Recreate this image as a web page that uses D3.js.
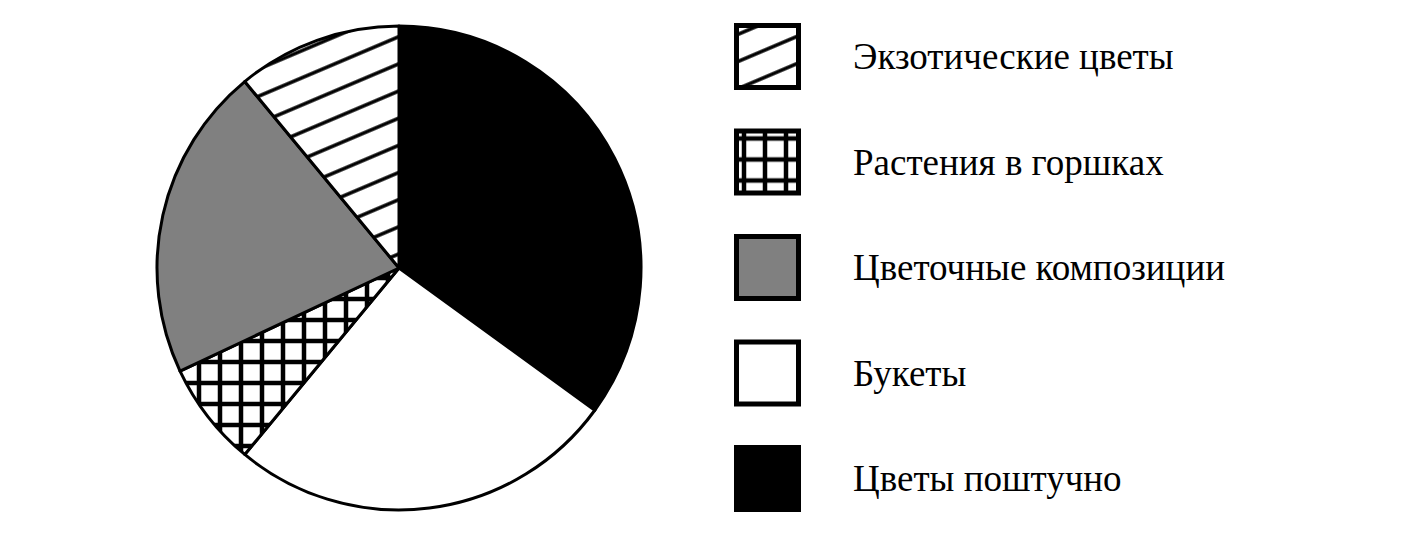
<!DOCTYPE html>
<html>
<head>
<meta charset="utf-8">
<script src="https://cdn.jsdelivr.net/npm/d3@7"></script>
<style>
  body { margin: 0; background: #fff; }
  svg text { font-family: "Liberation Serif", "Times New Roman", serif; }
</style>
</head>
<body>
<div id="chart"></div>
<script>
// данные (по часовой стрелке от верха)
var categories = ["Цветы поштучно", "Букеты", "Растения в горшках", "Цветочные композиции", "Экзотические цветы"];
var values = [35, 26, 7, 21, 11];
var fills = ["#000", "#fff", "url(#cross)", "#808080", "url(#hatch)"];
// порядок в легенде (сверху вниз)
var legendOrder = ["Экзотические цветы", "Растения в горшках", "Цветочные композиции", "Букеты", "Цветы поштучно"];

var width = 1414, height = 539;
var cx = 399, cy = 268, r = 242;

var svg = d3.select("#chart").append("svg").attr("width", width).attr("height", height);

var defs = svg.append("defs");

// косая штриховка
var hatch = defs.append("pattern")
  .attr("id", "hatch")
  .attr("patternUnits", "userSpaceOnUse")
  .attr("width", 40).attr("height", 25)
  .attr("patternTransform", "rotate(-23)");
hatch.append("rect").attr("width", 40).attr("height", 25).attr("fill", "#fff");
hatch.append("line").attr("x1", 0).attr("x2", 40).attr("y1", 12).attr("y2", 12)
  .attr("stroke", "#000").attr("stroke-width", 3.5);

// клетка
var cross = defs.append("pattern")
  .attr("id", "cross")
  .attr("patternUnits", "userSpaceOnUse")
  .attr("width", 21).attr("height", 21);
cross.append("rect").attr("width", 21).attr("height", 21).attr("fill", "#fff");
cross.append("line").attr("x1", 0).attr("x2", 21).attr("y1", 10).attr("y2", 10)
  .attr("stroke", "#000").attr("stroke-width", 4.5);
cross.append("line").attr("y1", 0).attr("y2", 21).attr("x1", 10).attr("x2", 10)
  .attr("stroke", "#000").attr("stroke-width", 4.5);

var data = categories.map(function(c, i){ return { name: c, value: values[i], fill: fills[i] }; });

var pie = d3.pie().sort(null).value(function(d){ return d.value; });
var arc = d3.arc().innerRadius(0).outerRadius(r);

var g = svg.append("g").attr("transform", "translate(" + cx + "," + cy + ")");
g.selectAll("path")
  .data(pie(data))
  .enter()
  .append("path")
  .attr("d", arc)
  .attr("fill", function(d){ return d.data.fill; })
  .attr("stroke", "#000")
  .attr("stroke-width", 3)
  .attr("stroke-linejoin", "round");

// легенда
var yScale = d3.scalePoint().domain(legendOrder).range([23, 445]);
var fillOf = {};
data.forEach(function(d){ fillOf[d.name] = d.fill; });

var leg = svg.append("g").selectAll("g")
  .data(legendOrder)
  .enter()
  .append("g")
  .attr("transform", function(d){ return "translate(734," + yScale(d) + ")"; });

leg.append("rect")
  .attr("x", 2.5).attr("y", 2.5)
  .attr("width", 62).attr("height", 62)
  .attr("fill", function(d){ return fillOf[d]; })
  .attr("stroke", "#000")
  .attr("stroke-width", 5);

leg.append("text")
  .attr("x", 119)
  .attr("y", 46)
  .attr("font-size", 37)
  .attr("fill", "#000")
  .text(function(d){ return d; });
</script>
</body>
</html>
